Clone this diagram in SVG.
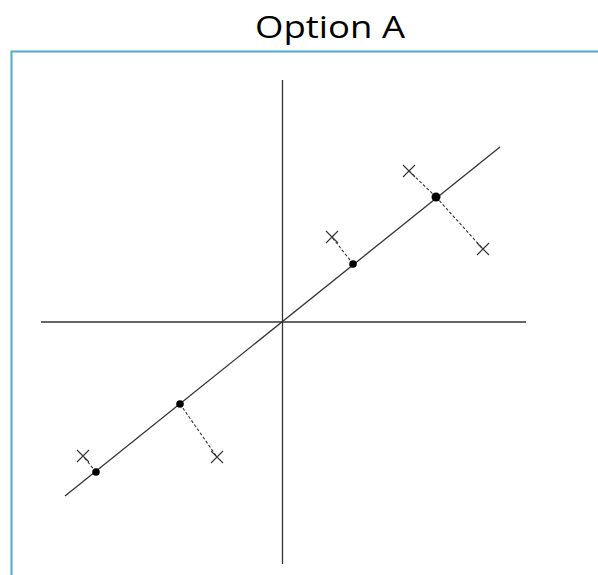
<svg xmlns="http://www.w3.org/2000/svg" width="598" height="575" viewBox="0 0 598 575">
<style>
.ax{stroke:#333;stroke-width:1.3;fill:none}
.dash{stroke:#333;stroke-width:1.1;stroke-dasharray:3,2;fill:none}
.x{stroke:#333;stroke-width:1.1;fill:none}
.pt{fill:#000}
</style>
<rect width="598" height="575" fill="#fff"/>
<text x="330" y="38" font-family="Open Sans, sans-serif" font-size="31" text-anchor="middle" textLength="150" lengthAdjust="spacingAndGlyphs" fill="#000">Option A</text>
<path d="M11.5,610 V51.5 H640" stroke="#4BACC6" stroke-width="2" fill="none"/>
<g id="connectors">
<line class="ax" x1="282.5" y1="80" x2="282.5" y2="564"/>
<line class="ax" x1="41" y1="322" x2="526" y2="322"/>
<line class="ax" x1="65" y1="496" x2="500" y2="147"/>
<line class="dash" x1="96" y1="472" x2="83" y2="456"/>
<line class="dash" x1="180" y1="404" x2="217" y2="457"/>
<line class="dash" x1="353" y1="264" x2="332" y2="237"/>
<line class="dash" x1="436" y1="197" x2="409" y2="171"/>
<line class="dash" x1="436" y1="197" x2="483" y2="249"/>
</g>
<g id="p1"><circle class="pt" cx="96" cy="472" r="3.8"/></g>
<g id="p2"><circle class="pt" cx="180" cy="404" r="3.8"/></g>
<g id="p3"><circle class="pt" cx="353" cy="264" r="3.8"/></g>
<g id="p4"><circle class="pt" cx="436" cy="197" r="4.5"/></g>
<g id="x1"><path class="x" d="M77,450 L89,462 M77,462 L89,450"/></g>
<g id="x2"><path class="x" d="M211,451 L223,463 M211,463 L223,451"/></g>
<g id="x3"><path class="x" d="M326,231 L338,243 M326,243 L338,231"/></g>
<g id="x4"><path class="x" d="M403,165 L415,177 M403,177 L415,165"/></g>
<g id="x5"><path class="x" d="M477,243 L489,255 M477,255 L489,243"/></g>
</svg>
